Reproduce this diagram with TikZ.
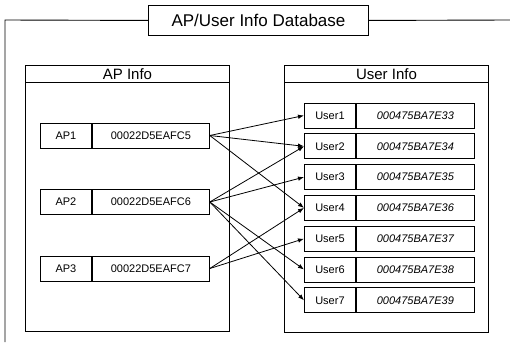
\documentclass[tikz,border=0pt]{standalone}
\usepackage{fontspec}
\setmainfont{Liberation Sans}
\usetikzlibrary{arrows.meta}
\begin{document}
\begin{tikzpicture}[x=1pt,y=-1pt,line width=0.9pt,
  cell/.style={draw,minimum height=25pt,inner sep=0pt,anchor=west,font=\fontsize{11}{12}\selectfont},
  lab/.style={cell,minimum width=51pt},
  apval/.style={cell,minimum width=117pt},
  usval/.style={cell,minimum width=118pt,font=\fontsize{11}{12}\selectfont\itshape},
  panel/.style={draw,anchor=north west,minimum width=204pt,inner sep=0pt},
  head/.style={panel,minimum height=17pt,font=\fontsize{15}{16}\selectfont},
  conn/.style={-{Latex[length=6pt,width=4.5pt]},line width=0.8pt}]
\useasboundingbox (0,0) rectangle (510,356);
% title and outer frame
\node[draw,anchor=north west,minimum width=220pt,minimum height=30pt,inner sep=0pt,
      font=\fontsize{17}{18}\selectfont] (title) at (148,5) {AP/User Info Database};
\coordinate (ftl) at (5,20);
\coordinate (fbl) at (5,342);
\coordinate (ftr) at (510,20);
\draw (title.west) -- (ftl) -- (fbl);
\draw (title.east) -- (ftr);
% panels
\node[head] (aphead) at (25,65) {AP Info};
\node[panel,minimum height=249pt] (apbody) at (25,82) {};
\node[head] (ushead) at (284,65) {User Info};
\node[panel,minimum height=250pt] (usbody) at (284,82) {};
% AP rows
\node[lab] (ap1l) at (40,135.5) {AP1};
\node[apval] (ap1) at (ap1l.east) {00022D5EAFC5};
\node[lab] (ap2l) at (40,202) {AP2};
\node[apval] (ap2) at (ap2l.east) {00022D5EAFC6};
\node[lab] (ap3l) at (40,268.5) {AP3};
\node[apval] (ap3) at (ap3l.east) {00022D5EAFC7};
% User rows
\foreach \i/\v in {1/33,2/34,3/35,4/36,5/37,6/38,7/39}{
  \node[lab] (u\i) at (304,{115.5+30.8*(\i-1)}) {User\i};
  \node[usval] (u\i v) at (u\i.east) {000475BA7E\v};
}
% connectors
\draw[conn] (ap1.east) -- (u1.west);
\draw[conn] (ap1.east) -- (u2.west);
\draw[conn] (ap1.east) -- (u4.west);
\draw[conn] (ap2.east) -- (u2.west);
\draw[conn] (ap2.east) -- (u3.west);
\draw[conn] (ap2.east) -- (u6.west);
\draw[conn] (ap2.east) -- (u7.west);
\draw[conn] (ap3.east) -- (u4.west);
\draw[conn] (ap3.east) -- (u5.west);
\end{tikzpicture}
\end{document}
